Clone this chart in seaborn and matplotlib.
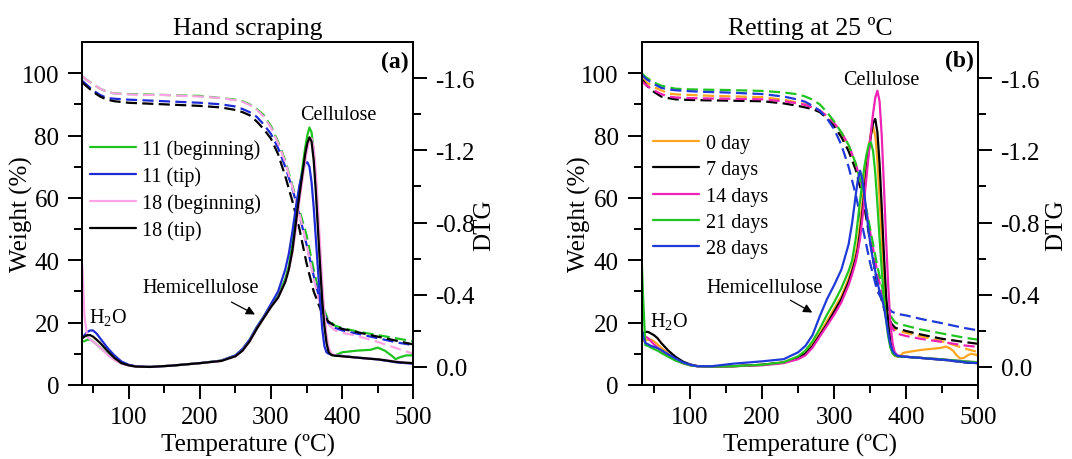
import matplotlib
matplotlib.use("Agg")
import matplotlib.pyplot as plt
from matplotlib.ticker import MultipleLocator, FixedLocator, FuncFormatter
import seaborn as sns

# ---------------- Panel (a): hand scraping ----------------
temp_tg_a = [35, 40, 50, 60, 70, 80, 100, 120, 150, 200, 230, 250, 260, 270, 280, 290,
             300, 310, 320, 330, 340, 350, 360, 370, 380, 390, 400, 420, 450, 480, 500]
tg_11_beginning = [99, 98, 96.5, 95, 94, 93.5, 93.3, 93.2, 93, 92.7, 92, 91.5, 91, 90, 88.5, 86.5,
                   83, 78, 72, 64, 56, 48, 37, 27, 21, 19, 18.3, 17.2, 16, 14.8, 14]
tg_11_tip = [97.5, 96.5, 94.5, 93, 92, 91.8, 91.5, 91.3, 91, 90.5, 90, 89.3, 88.5, 87.5, 86, 83.5,
             80.5, 76, 70, 63, 54.5, 45, 35, 26, 20, 18.3, 17.5, 16.5, 15, 13.5, 12.8]
tg_18_beginning = [99, 98, 96.5, 95, 94, 93.5, 93.2, 93, 93, 92.5, 92, 91.3, 90.8, 89.8, 88.3, 86,
                   82.5, 77.5, 71.5, 63.5, 55, 45, 34, 25, 19.5, 17.5, 16.8, 15.8, 13.8, 11.5, 10]
tg_18_tip = [97, 96, 94, 92.5, 91.5, 91, 90.5, 90.3, 90, 89.5, 89, 88.2, 87.5, 86.5, 84.5, 82,
             79, 74, 67, 59, 50, 39, 30, 24, 20.5, 18.8, 18, 17, 15.5, 14, 13]

temp_dtg_a = [35, 38, 42, 46, 50, 55, 60, 70, 80, 90, 100, 110, 130, 160, 200, 230,
              250, 260, 270, 280, 290, 300, 310, 320, 325, 330, 335, 340, 345, 348, 351, 354,
              357, 360, 363, 366, 369, 372, 375, 378, 381, 385, 390, 400, 420, 440, 450, 460,
              470, 475, 480, 490, 500]
dtg_11_beginning = [-0.142, -0.142, -0.151, -0.151, -0.142, -0.125, -0.107, -0.073, -0.043, -0.021,
                    -0.009, -0.002, 0.000, -0.007, -0.021, -0.035, -0.064, -0.099, -0.151, -0.220,
                    -0.280, -0.341, -0.392, -0.488, -0.557, -0.678, -0.833, -0.989, -1.127, -1.213,
                    -1.282, -1.326, -1.300, -1.196, -1.023, -0.816, -0.608, -0.418, -0.263, -0.151,
                    -0.090, -0.066, -0.064, -0.081, -0.090, -0.095, -0.107, -0.090, -0.061, -0.043,
                    -0.052, -0.064, -0.064]
dtg_11_tip = [-0.159, -0.176, -0.194, -0.202, -0.202, -0.185, -0.159, -0.107, -0.064, -0.030,
              -0.012, -0.004, 0.000, -0.007, -0.021, -0.035, -0.064, -0.099, -0.151, -0.220,
              -0.280, -0.349, -0.418, -0.539, -0.626, -0.747, -0.885, -1.006, -1.092, -1.127,
              -1.134, -1.110, -1.023, -0.885, -0.712, -0.539, -0.367, -0.211, -0.116, -0.081,
              -0.073, -0.069, -0.064, -0.061, -0.052, -0.045, -0.042, -0.035, -0.030, -0.026,
              -0.024, -0.021, -0.018]
dtg_18_beginning = [-0.557, -0.280, -0.168, -0.151, -0.142, -0.125, -0.107, -0.069, -0.038, -0.018,
                    -0.007, -0.002, 0.000, -0.007, -0.021, -0.033, -0.059, -0.090, -0.142, -0.211,
                    -0.272, -0.332, -0.384, -0.470, -0.539, -0.626, -0.764, -0.920, -1.058, -1.136,
                    -1.205, -1.257, -1.265, -1.213, -1.075, -0.885, -0.678, -0.470, -0.297, -0.176,
                    -0.107, -0.073, -0.064, -0.059, -0.052, -0.045, -0.043, -0.038, -0.033, -0.030,
                    -0.028, -0.024, -0.021]
dtg_18_tip = [-0.159, -0.168, -0.176, -0.176, -0.168, -0.151, -0.133, -0.090, -0.050, -0.021,
              -0.009, -0.002, 0.000, -0.007, -0.021, -0.033, -0.059, -0.090, -0.142, -0.211,
              -0.272, -0.332, -0.384, -0.470, -0.539, -0.643, -0.799, -0.954, -1.092, -1.179,
              -1.239, -1.272, -1.248, -1.144, -0.971, -0.764, -0.557, -0.367, -0.228, -0.133,
              -0.081, -0.066, -0.062, -0.059, -0.052, -0.045, -0.042, -0.037, -0.031, -0.028,
              -0.026, -0.023, -0.021]

labels_a = ["11 (beginning)", "11 (tip)", "18 (beginning)", "18 (tip)"]
colors_a = ["#1fc41f", "#1f2bd6", "#ffa3e6", "#000000"]

# ---------------- Panel (b): retting at 25 ºC ----------------
temp_tg_b = [33, 35, 40, 50, 60, 70, 80, 100, 120, 150, 200, 230, 250, 260, 270, 280, 290,
             300, 310, 320, 330, 340, 350, 360, 370, 380, 385, 390, 400, 420, 450, 480, 500]
tg_0_day = [98.5, 98, 97, 95.5, 94.5, 93.5, 93.2, 93, 92.8, 92.6, 92.3, 91.5, 90.5, 90, 89, 88, 86,
            83.5, 80, 75.5, 69.5, 60, 47, 33, 24, 19, 17.8, 17.3, 16.7, 15.6, 14, 11.8, 10.5]
tg_7_days = [98, 97.5, 96, 94, 92.5, 92, 91.6, 91.4, 91.3, 91.2, 91, 90.3, 89.5, 89, 88.5, 87.5, 85.5,
             83, 79.5, 75, 69, 60, 46, 32, 24, 19.5, 18.3, 18, 17.3, 16.2, 14.8, 13.8, 13.2]
tg_14_days = [97.5, 97, 96, 94.5, 93.3, 92.5, 92.2, 92, 91.9, 91.8, 91.6, 91, 90.3, 89.8, 89, 88, 86.3,
              84, 81, 77, 71, 62, 49, 36, 25, 18.5, 16.8, 16.3, 15.7, 14.8, 13.8, 12.7, 12.2]
tg_21_days = [100, 99.5, 98.5, 97, 96, 95.5, 95, 94.8, 94.7, 94.6, 94.3, 93.8, 93.2, 92.5, 91.5, 90, 87.5,
              84.5, 81, 77, 71, 62, 50, 38, 28, 21.5, 20, 19.5, 19, 17.8, 16.5, 15.2, 14.5]
tg_28_days = [99.5, 99, 98, 96.5, 95.3, 94.8, 94.5, 94.2, 94, 93.8, 93.3, 92.5, 91.5, 90.8, 89.5, 88, 85.5,
              82, 77, 70, 61, 50, 39, 30, 26, 23.5, 23, 22.7, 22.3, 21.2, 19.8, 18.3, 17.5]

temp_dtg_b = [33, 35, 38, 42, 46, 50, 55, 60, 70, 80, 90, 100, 110, 130, 160, 200,
              230, 250, 260, 270, 280, 290, 300, 310, 320, 325, 330, 333, 336, 339, 342, 345,
              348, 351, 354, 357, 360, 363, 366, 369, 372, 375, 378, 381, 384, 388, 392, 396,
              400, 420, 440, 450, 455, 460, 465, 470, 475, 480, 485, 490, 500]
dtg_0_day = [-0.142, -0.142, -0.147, -0.151, -0.151, -0.142, -0.125, -0.107, -0.073, -0.043,
             -0.021, -0.009, -0.004, -0.002, -0.004, -0.012, -0.026, -0.056, -0.081, -0.125,
             -0.185, -0.254, -0.323, -0.392, -0.488, -0.548, -0.626, -0.695, -0.799, -0.902,
             -1.023, -1.127, -1.213, -1.291, -1.331, -1.282, -1.144, -0.937, -0.712, -0.505,
             -0.323, -0.194, -0.116, -0.078, -0.061, -0.056, -0.064, -0.078, -0.081, -0.094,
             -0.102, -0.107, -0.113, -0.104, -0.090, -0.064, -0.047, -0.050, -0.064, -0.073,
             -0.064]
dtg_7_days = [-0.176, -0.185, -0.194, -0.194, -0.185, -0.176, -0.159, -0.133, -0.090, -0.056,
              -0.030, -0.014, -0.005, -0.002, -0.004, -0.012, -0.024, -0.052, -0.073, -0.116,
              -0.176, -0.237, -0.306, -0.375, -0.470, -0.531, -0.600, -0.660, -0.747, -0.850,
              -0.971, -1.092, -1.196, -1.282, -1.352, -1.374, -1.300, -1.127, -0.885, -0.626,
              -0.401, -0.246, -0.142, -0.090, -0.069, -0.061, -0.059, -0.057, -0.056, -0.050,
              -0.043, -0.040, -0.038, -0.037, -0.033, -0.031, -0.030, -0.026, -0.024, -0.023,
              -0.021]
dtg_14_days = [-0.185, -0.176, -0.168, -0.159, -0.142, -0.125, -0.107, -0.090, -0.061, -0.038,
               -0.021, -0.011, -0.004, -0.002, -0.004, -0.009, -0.021, -0.043, -0.064, -0.107,
               -0.168, -0.228, -0.289, -0.358, -0.453, -0.513, -0.583, -0.643, -0.712, -0.816,
               -0.937, -1.058, -1.179, -1.300, -1.403, -1.490, -1.530, -1.472, -1.282, -1.006,
               -0.712, -0.453, -0.246, -0.133, -0.081, -0.064, -0.059, -0.057, -0.056, -0.050,
               -0.045, -0.042, -0.040, -0.038, -0.037, -0.035, -0.033, -0.031, -0.030, -0.028,
               -0.026]
dtg_21_days = [-0.591, -0.384, -0.121, -0.116, -0.107, -0.099, -0.090, -0.078, -0.056, -0.035,
               -0.021, -0.009, -0.004, -0.002, -0.004, -0.012, -0.026, -0.059, -0.090, -0.142,
               -0.211, -0.289, -0.358, -0.436, -0.531, -0.591, -0.712, -0.816, -0.920, -1.023,
               -1.110, -1.179, -1.231, -1.244, -1.196, -1.075, -0.902, -0.712, -0.539, -0.384,
               -0.263, -0.168, -0.107, -0.076, -0.064, -0.059, -0.057, -0.056, -0.056, -0.050,
               -0.045, -0.042, -0.040, -0.038, -0.037, -0.035, -0.033, -0.031, -0.030, -0.028,
               -0.026]
dtg_28_days = [-0.211, -0.168, -0.133, -0.125, -0.116, -0.111, -0.104, -0.094, -0.069, -0.047,
               -0.026, -0.012, -0.004, -0.004, -0.018, -0.031, -0.043, -0.081, -0.116, -0.176,
               -0.280, -0.375, -0.453, -0.539, -0.678, -0.799, -0.954, -1.040, -1.087, -1.040,
               -0.954, -0.850, -0.747, -0.660, -0.591, -0.531, -0.470, -0.418, -0.384, -0.332,
               -0.263, -0.185, -0.125, -0.090, -0.073, -0.061, -0.059, -0.057, -0.056, -0.050,
               -0.043, -0.040, -0.038, -0.037, -0.033, -0.031, -0.030, -0.026, -0.024, -0.023,
               -0.021]

labels_b = ["0 day", "7 days", "14 days", "21 days", "28 days"]
colors_b = ["#ffa51f", "#000000", "#ee22b4", "#1fc41f", "#1f3ad8"]

# ---------------- style ----------------
sns.set_theme(style="ticks")
plt.rcParams.update({
    "font.family": ["Liberation Serif", "DejaVu Serif"],
    "mathtext.fontset": "custom",
    "mathtext.rm": "Liberation Serif",
    "mathtext.it": "Liberation Serif:italic",
    "axes.unicode_minus": False,
    "axes.edgecolor": "black",
    "axes.linewidth": 1.4,
    "text.color": "black",
    "axes.labelcolor": "black",
    "xtick.color": "black",
    "ytick.color": "black",
})

LW = 1.6
DASH = (0, (5, 2.4))
TICK_FS = 18
LABEL_FS = 18
NOTE_FS = 14.5


def style_axes(ax, ax2, xmin):
    ax.set_xlim(xmin, 500)
    ax.set_ylim(0, 110)
    ax.xaxis.set_major_locator(FixedLocator([100, 200, 300, 400, 500]))
    ax.xaxis.set_minor_locator(MultipleLocator(50))
    ax.yaxis.set_major_locator(FixedLocator([0, 20, 40, 60, 80, 100]))
    ax.yaxis.set_minor_locator(FixedLocator([10, 30, 50, 70, 90]))
    ax.tick_params(which="both", direction="out", top=False, right=False,
                   width=1.4, labelsize=TICK_FS)
    ax.tick_params(axis="x", pad=5)
    ax.tick_params(axis="y", pad=6.5)
    ax.tick_params(which="major", length=10)
    ax.tick_params(which="minor", length=5.5)
    ax.set_xlabel("Temperature (ºC)", fontsize=LABEL_FS, labelpad=4)
    ax.set_ylabel("Weight (%)", fontsize=LABEL_FS)
    ax.yaxis.set_label_coords(-0.15, 0.5)

    ax2.set_ylim(0.1, -1.8)
    ax2.yaxis.set_major_locator(FixedLocator([0.0, -0.4, -0.8, -1.2, -1.6]))
    ax2.yaxis.set_minor_locator(FixedLocator([-0.2, -0.6, -1.0, -1.4]))
    ax2.yaxis.set_major_formatter(FuncFormatter(lambda v, p: f"{v:.1f}".replace("-0.0", "0.0")))
    ax2.tick_params(which="both", direction="out", width=1.4, labelsize=TICK_FS, pad=6)
    ax2.tick_params(which="major", length=10)
    ax2.tick_params(which="minor", length=5.5)
    ax2.set_ylabel("DTG", fontsize=LABEL_FS)
    for a in (ax, ax2):
        for s in a.spines.values():
            s.set_linewidth(1.4)
            s.set_color("black")
        a.grid(False)


def draw_panel(ax, temp_tg, tg_list, temp_dtg, dtg_list, colors):
    ax2 = ax.twinx()
    for tg, c in zip(tg_list, colors):
        sns.lineplot(x=temp_tg, y=tg, ax=ax, color=c, linewidth=LW, linestyle=DASH,
                     estimator=None, errorbar=None, sort=False)
    handles = []
    for dtg, c in zip(dtg_list, colors):
        sns.lineplot(x=temp_dtg, y=dtg, ax=ax2, color=c, linewidth=LW,
                     estimator=None, errorbar=None, sort=False)
        handles.append(ax2.lines[-1])
    return ax2, handles


fig = plt.figure(figsize=(10.72, 4.6), dpi=100)
ax_a = fig.add_axes([0.0768, 0.1609, 0.3088, 0.7457])
ax_b = fig.add_axes([0.5986, 0.1609, 0.3140, 0.7457])

# panel (a)
ax2_a, h_a = draw_panel(ax_a, temp_tg_a,
                        [tg_11_beginning, tg_11_tip, tg_18_beginning, tg_18_tip],
                        temp_dtg_a,
                        [dtg_11_beginning, dtg_11_tip, dtg_18_beginning, dtg_18_tip],
                        colors_a)
style_axes(ax_a, ax2_a, 35)
ax2_a.yaxis.set_label_coords(1.18, 0.47)
ax_a.set_title("Hand scraping", fontsize=18.5, pad=6)
ax2_a.legend(h_a, labels_a, loc="upper left", bbox_to_anchor=(0.022, 0.716),
             frameon=False, fontsize=NOTE_FS, handlelength=2.3, handletextpad=0.3,
             labelspacing=0.36, borderpad=0, borderaxespad=0)
ax_a.text(493, 103.7, "(a)", fontsize=17, fontweight="bold", ha="right", va="center")
ax_a.text(394, 86.6, "Cellulose", fontsize=NOTE_FS, ha="center", va="center")
ax_a.text(201, 31.3, "Hemicellulose", fontsize=NOTE_FS, ha="center", va="center")
ax_a.text(45, 20.1, r"H$_2$O", fontsize=NOTE_FS, ha="left", va="baseline")
ax_a.annotate("", xy=(281, 22.2), xytext=(241, 27),
              arrowprops=dict(arrowstyle="-|>", color="black", lw=0.9, mutation_scale=13))

# panel (b)
ax2_b, h_b = draw_panel(ax_b, temp_tg_b,
                        [tg_0_day, tg_7_days, tg_14_days, tg_21_days, tg_28_days],
                        temp_dtg_b,
                        [dtg_0_day, dtg_7_days, dtg_14_days, dtg_21_days, dtg_28_days],
                        colors_b)
style_axes(ax_b, ax2_b, 33)
ax2_b.yaxis.set_label_coords(1.198, 0.47)
ax_b.set_title("Retting at 25 ºC", fontsize=18.5, pad=6)
ax2_b.legend(h_b, labels_b, loc="upper left", bbox_to_anchor=(0.034, 0.732),
             frameon=False, fontsize=NOTE_FS, handlelength=2.3, handletextpad=0.3,
             labelspacing=0.36, borderpad=0, borderaxespad=0)
ax_b.text(494.5, 104, "(b)", fontsize=17, fontweight="bold", ha="right", va="center")
ax_b.text(365, 98, "Cellulose", fontsize=NOTE_FS, ha="center", va="center")
ax_b.text(203, 31.3, "Hemicellulose", fontsize=NOTE_FS, ha="center", va="center")
ax_b.text(44.2, 19, r"H$_2$O", fontsize=NOTE_FS, ha="left", va="baseline")
ax_b.annotate("", xy=(273, 22.8), xytext=(236, 27.6),
              arrowprops=dict(arrowstyle="-|>", color="black", lw=0.9, mutation_scale=13))

fig.savefig("out.png", dpi=100)
